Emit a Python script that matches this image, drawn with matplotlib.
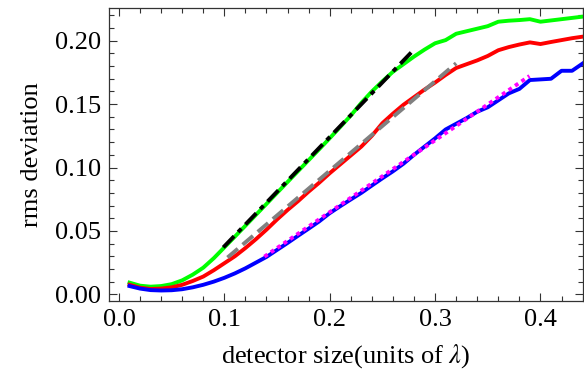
import numpy as np
import matplotlib
matplotlib.use("Agg")
import matplotlib.pyplot as plt
from matplotlib.ticker import MultipleLocator

# detector size (units of lambda)
x = [0.01, 0.02, 0.03, 0.04, 0.05, 0.06, 0.07, 0.08, 0.09, 0.10,
     0.11, 0.12, 0.13, 0.14, 0.15, 0.16, 0.17, 0.18, 0.19, 0.20,
     0.21, 0.22, 0.23, 0.24, 0.25, 0.26, 0.27, 0.28, 0.29, 0.30,
     0.31, 0.32, 0.33, 0.34, 0.35, 0.36, 0.37, 0.38, 0.39, 0.40,
     0.41, 0.42, 0.43, 0.44]

green = [0.0092, 0.0068, 0.0060, 0.0065, 0.0080, 0.0110, 0.0155, 0.0210, 0.0285, 0.0370,
         0.0455, 0.0541, 0.0627, 0.0713, 0.0800, 0.0886, 0.0972, 0.1058, 0.1144, 0.1231,
         0.1320, 0.1410, 0.1510, 0.1600, 0.1680, 0.1755, 0.1815, 0.1875, 0.1930, 0.1980,
         0.2005, 0.2055, 0.2075, 0.2095, 0.2115, 0.2150, 0.2158, 0.2163, 0.2170, 0.2150,
         0.2160, 0.2170, 0.2180, 0.2190]

red = [0.0075, 0.0052, 0.0042, 0.0045, 0.0055, 0.0075, 0.0105, 0.0140, 0.0190, 0.0245,
       0.0300, 0.0365, 0.0435, 0.0510, 0.0590, 0.0665, 0.0735, 0.0810, 0.0880, 0.0955,
       0.1025, 0.1095, 0.1165, 0.1250, 0.1350, 0.1425, 0.1495, 0.1555, 0.1615, 0.1670,
       0.1730, 0.1785, 0.1815, 0.1845, 0.1880, 0.1925, 0.1950, 0.1970, 0.1987, 0.1974,
       0.1990, 0.2005, 0.2020, 0.2032]

blue = [0.0065, 0.0045, 0.0033, 0.0030, 0.0032, 0.0040, 0.0055, 0.0075, 0.0100, 0.0130,
        0.0165, 0.0205, 0.0250, 0.0295, 0.0350, 0.0405, 0.0462, 0.0518, 0.0575, 0.0640,
        0.0695, 0.0748, 0.0800, 0.0858, 0.0915, 0.0970, 0.1030, 0.1100, 0.1165, 0.1230,
        0.1300, 0.1345, 0.1390, 0.1440, 0.1475, 0.1530, 0.1585, 0.1620, 0.1690, 0.1695,
        0.1700, 0.1763, 0.1763, 0.1820]

# straight-line fits (end points)
fit_black_x = [0.099, 0.278]
fit_black_y = [0.037, 0.1913]
fit_gray_x = [0.103, 0.320]
fit_gray_y = [0.029, 0.1822]
fit_magenta_x = [0.138, 0.3896]
fit_magenta_y = [0.0297, 0.1722]

plt.rcParams['font.family'] = ['Liberation Serif', 'DejaVu Serif']
plt.rcParams['mathtext.fontset'] = 'stix'

fig = plt.figure(figsize=(5.84, 3.82), dpi=100)
ax = fig.add_axes([0.1866, 0.212, 0.811, 0.767])

lw = 2.8
ax.plot(x, green, color='#00ff00', lw=lw, solid_joinstyle='round')
ax.plot(x, red, color='#ff0000', lw=lw, solid_joinstyle='round')
ax.plot(x, blue, color='#0000ff', lw=lw, solid_joinstyle='round')

ax.plot(fit_black_x, fit_black_y, color='black', lw=lw, dashes=(4, 1.5, 1.2, 1.5))
ax.plot(fit_gray_x, fit_gray_y, color='#808080', lw=lw, dashes=(3.5, 1.6))
ax.plot(fit_magenta_x, fit_magenta_y, color='#ff00ff', lw=lw, dashes=(1.0, 1.0))

ax.set_xlim(-0.0095, 0.44)
ax.set_ylim(-0.0053, 0.2258)

ax.xaxis.set_major_locator(MultipleLocator(0.1))
ax.xaxis.set_minor_locator(MultipleLocator(0.02))
ax.yaxis.set_major_locator(MultipleLocator(0.05))
ax.yaxis.set_minor_locator(MultipleLocator(0.01))
ax.xaxis.set_major_formatter(plt.FuncFormatter(lambda v, p: "%.1f" % v))
ax.yaxis.set_major_formatter(plt.FuncFormatter(lambda v, p: "%.2f" % v))

ax.tick_params(which='both', direction='in', top=True, right=True,
               labelsize=19, width=0.8, color='#333333')
ax.tick_params(which='major', length=6, pad=6)
ax.tick_params(which='minor', length=3.5)
for s in ax.spines.values():
    s.set_linewidth(0.9)
    s.set_color('#333333')

ax.set_xlabel(r"detector size(units of $\lambda$)", fontsize=19, labelpad=8)
ax.set_ylabel("rms deviation", fontsize=19, labelpad=8)

fig.savefig("out.png", dpi=100)
